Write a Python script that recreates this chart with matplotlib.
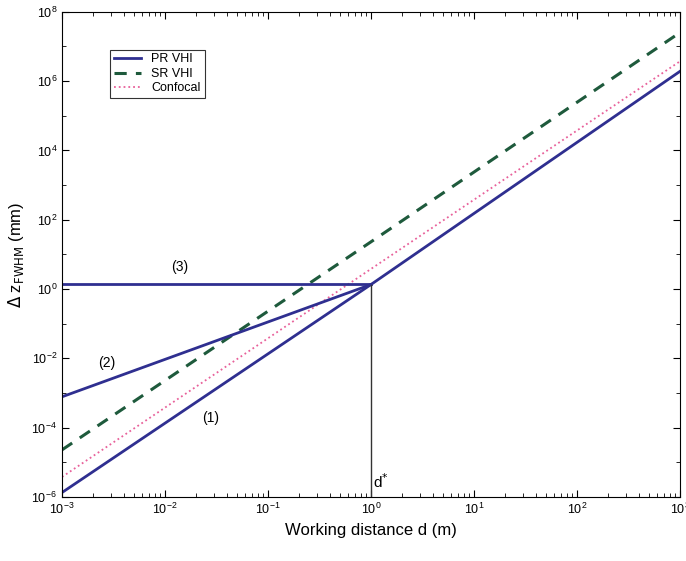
import numpy as np
import matplotlib.pyplot as plt
from matplotlib.ticker import LogLocator, NullFormatter

# Values
d = np.array([1e-3, 1e0, 1e3])          # working distance (m)
pr_vhi = np.array([1.35e-6, 1.35, 1.9e6])
sr_vhi = np.array([2.3e-5, 23.0, 2.5e7])
confocal = np.array([3.8e-6, 3.8, 3.7e6])
d_branch = np.array([1e-3, 1e0])
branch2 = np.array([7.8e-4, 1.35])
branch3 = np.array([1.4, 1.4])
d_star = 1.0
d_star_y = 1.35

plt.rcParams.update({
    "font.family": ["Liberation Sans", "DejaVu Sans"],
    "font.size": 9,
})

fig = plt.figure(figsize=(6.86, 5.61), dpi=100)
ax = fig.add_axes([0.0904, 0.114, 0.9006, 0.865])

navy = '#2f2f90'
ax.plot(d, pr_vhi, '-', color=navy, linewidth=2, label='PR VHI')
ax.plot(d, sr_vhi, '--', color='#1e5a3c', linewidth=2.2, dashes=(4, 3), label='SR VHI')
ax.plot(d, confocal, ':', color='#e8609a', linewidth=1.3, label='Confocal')
ax.plot(d_branch, branch2, '-', color=navy, linewidth=2)
ax.plot(d_branch, branch3, '-', color=navy, linewidth=2)
ax.plot([d_star, d_star], [1e-6, d_star_y], '-', color='#333333', linewidth=1)

ax.text(2.7e-3, 7.4e-3, '(2)', fontsize=10, ha='center', va='center')
ax.text(1.4e-2, 4.2, '(3)', fontsize=10, ha='center', va='center')
ax.text(2.8e-2, 1.9e-4, '(1)', fontsize=10, ha='center', va='center')
ax.text(1.04, 1.5e-6, r'd$^{*}$', fontsize=11, ha='left', va='bottom')

ax.set_xscale('log')
ax.set_yscale('log')
ax.set_xlim(1e-3, 1e3)
ax.set_ylim(1e-6, 1e8)
ax.set_yticks([1e-6, 1e-4, 1e-2, 1e0, 1e2, 1e4, 1e6, 1e8])
ax.yaxis.set_minor_locator(LogLocator(base=10, subs=[1.0], numticks=20))
ax.yaxis.set_minor_formatter(NullFormatter())
ax.xaxis.set_minor_locator(LogLocator(base=10, subs=np.arange(2, 10), numticks=20))
ax.tick_params(which='both', direction='in', top=True, right=True)
ax.tick_params(which='major', length=5)
ax.tick_params(which='minor', length=3)

ax.set_xlabel('Working distance d (m)', fontsize=12)
ax.set_ylabel(r'$\Delta$ z$_{\mathrm{FWHM}}$ (mm)', fontsize=12)

leg = ax.legend(loc='upper left', bbox_to_anchor=(0.078, 0.922), fancybox=False,
                edgecolor='black', fontsize=9, handlelength=2.2,
                borderpad=0.3, labelspacing=0.2, borderaxespad=0)
leg.get_frame().set_linewidth(0.8)

fig.savefig('out.png', dpi=100)
